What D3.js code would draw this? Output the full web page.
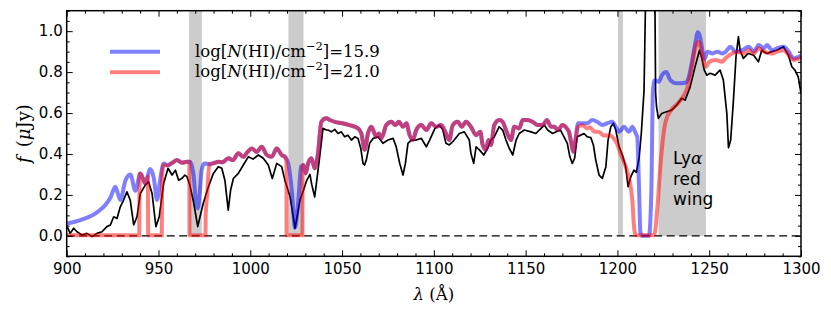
<!DOCTYPE html>
<html>
<head>
<meta charset="utf-8">
<script src="https://cdn.jsdelivr.net/npm/d3@7"></script>
<style>
  body { margin: 0; background: #fff; }
  svg { display: block; }
</style>
</head>
<body>
<div id="chart"></div>
<script>
// shaded wavelength windows (Angstrom)
let bands = [[966.7, 973.6], [1020.8, 1029.0], [1200.3, 1203.0], [1222.4, 1248.2]];

let xTicks = [900, 950, 1000, 1050, 1100, 1150, 1200, 1250, 1300];
let yTicks = [0.0, 0.2, 0.4, 0.6, 0.8, 1.0];

let legendLabels = ["15.9", "21.0"];

// model with log N(HI) = 15.9
let modelLow = [
  [900, 0.06], [905, 0.07], [910, 0.085], [914, 0.10], [918, 0.125], [921, 0.15],
  [924, 0.19], [926.5, 0.24], [929.2, 0.175], [932, 0.27], [934.7, 0.30], [937.4, 0.22],
  [940.1, 0.305], [942.8, 0.256], [945.5, 0.326], [947.5, 0.28], [949.2, 0.175], [951, 0.28],
  [952.8, 0.354], [955, 0.345], [958, 0.36], [960, 0.37], [962.8, 0.357], [965.5, 0.362],
  [967.2, 0.362], [969, 0.305], [970.3, 0.175], [971.4, 0.134], [972.6, 0.224], [973.5, 0.321],
  [975, 0.354], [977.7, 0.35], [980, 0.355], [982.6, 0.362], [985, 0.36], [988, 0.379],
  [990.5, 0.37], [993.5, 0.403], [996.2, 0.386], [998.5, 0.41], [1000.8, 0.427], [1003.5, 0.41],
  [1006.2, 0.435], [1009, 0.395], [1011.7, 0.386], [1014.4, 0.427], [1017.1, 0.395], [1018.9, 0.386],
  [1020.7, 0.354], [1022.6, 0.224], [1024.4, 0.04], [1026.2, 0.175], [1027.7, 0.338], [1028.9, 0.346],
  [1030.2, 0.305], [1031.5, 0.354], [1033.3, 0.379], [1035.1, 0.33], [1036.9, 0.403], [1038.7, 0.557],
  [1041.4, 0.574], [1043.3, 0.566], [1046, 0.557], [1050, 0.55], [1054, 0.541], [1058.7, 0.525],
  [1060.5, 0.5], [1062.3, 0.42], [1064.1, 0.5], [1065.9, 0.533], [1068.7, 0.484], [1070, 0.5],
  [1071.4, 0.476], [1074.1, 0.541], [1076.9, 0.557], [1079, 0.541], [1080.9, 0.557], [1083.2, 0.533],
  [1085, 0.55], [1086.8, 0.492], [1088.6, 0.468], [1090.4, 0.517], [1093.2, 0.541], [1095.9, 0.517],
  [1098.6, 0.55], [1101.2, 0.533], [1103.9, 0.541], [1106.6, 0.5], [1108.4, 0.468], [1110.3, 0.541],
  [1113, 0.557], [1115.2, 0.533], [1117.5, 0.557], [1120.2, 0.533], [1123, 0.492], [1125.3, 0.508],
  [1126.6, 0.444], [1128.4, 0.42], [1129.7, 0.468], [1131.1, 0.444], [1132.9, 0.541], [1135.6, 0.566],
  [1137.5, 0.557], [1139.3, 0.517], [1142, 0.468], [1143.8, 0.533], [1146.5, 0.525], [1148.4, 0.566],
  [1151.1, 0.566], [1153.8, 0.557], [1156.6, 0.541], [1159.3, 0.541], [1161.6, 0.566], [1163.8, 0.533],
  [1165.5, 0.533], [1167.7, 0.517], [1170, 0.541], [1172.4, 0.525], [1173.6, 0.508], [1174.9, 0.452],
  [1176, 0.411], [1177.1, 0.468], [1178.6, 0.55], [1180.9, 0.55], [1183.6, 0.55], [1186.3, 0.566],
  [1189, 0.557], [1191.8, 0.541], [1194.5, 0.55], [1197.2, 0.557], [1199.1, 0.533], [1200.9, 0.508],
  [1203.6, 0.533], [1206.3, 0.508], [1208.1, 0.533], [1210, 0.5], [1210.8, 0.484], [1211.8, 0.224],
  [1212.5, 0.02], [1213.5, 0.0], [1217.2, 0.0], [1218.5, 0.224], [1219.3, 0.70], [1220.3, 0.76],
  [1222.5, 0.753], [1224.3, 0.785], [1226.6, 0.80], [1228.8, 0.761], [1232.4, 0.745], [1237, 0.748],
  [1239, 0.78], [1240.8, 0.859], [1242.6, 0.95], [1243.8, 0.995], [1245, 0.973], [1246.4, 0.90],
  [1247.5, 0.865], [1249, 0.9], [1251.7, 0.891], [1254.4, 0.9], [1257.1, 0.891], [1259, 0.9],
  [1261.5, 0.924], [1264.3, 0.9], [1267.9, 0.907], [1271.5, 0.924], [1274.3, 0.9], [1277, 0.932],
  [1279.7, 0.916], [1281.5, 0.932], [1284.2, 0.907], [1286.9, 0.916], [1290.6, 0.924], [1293.3, 0.9],
  [1296, 0.867], [1298.8, 0.875], [1300, 0.88]
];

// model with log N(HI) = 21.0
let modelHigh = [
  [900, 0.003], [939.5, 0.003], [939.7, 0.30], [940.1, 0.305], [942.8, 0.256], [944.2, 0.29],
  [944.4, 0.003], [951.8, 0.003], [952.0, 0.30], [952.8, 0.345], [955, 0.345], [958, 0.36],
  [960, 0.37], [962.8, 0.357], [965.5, 0.362], [966.8, 0.362], [966.9, 0.003], [975.6, 0.003],
  [975.7, 0.10], [976.5, 0.2], [977.7, 0.35], [980, 0.355], [982.6, 0.362], [985, 0.36],
  [988, 0.379], [990.5, 0.37], [993.5, 0.403], [996.2, 0.386], [998.5, 0.41], [1000.8, 0.427],
  [1003.5, 0.41], [1006.2, 0.435], [1009, 0.395], [1011.7, 0.386], [1014.4, 0.427], [1017.1, 0.395],
  [1018.9, 0.386], [1019.7, 0.37], [1019.8, 0.003], [1028.4, 0.003], [1028.5, 0.34], [1028.9, 0.346],
  [1030.2, 0.305], [1031.5, 0.354], [1033.3, 0.379], [1035.1, 0.33], [1036.9, 0.403], [1038.7, 0.557],
  [1041.4, 0.574], [1043.3, 0.566], [1046, 0.557], [1050, 0.55], [1054, 0.541], [1058.7, 0.525],
  [1060.5, 0.5], [1062.3, 0.42], [1064.1, 0.5], [1065.9, 0.533], [1068.7, 0.484], [1070, 0.5],
  [1071.4, 0.476], [1074.1, 0.541], [1076.9, 0.557], [1079, 0.541], [1080.9, 0.557], [1083.2, 0.533],
  [1085, 0.55], [1086.8, 0.492], [1088.6, 0.468], [1090.4, 0.517], [1093.2, 0.541], [1095.9, 0.517],
  [1098.6, 0.55], [1101.2, 0.533], [1103.9, 0.541], [1106.6, 0.5], [1108.4, 0.468], [1110.3, 0.541],
  [1113, 0.557], [1115.2, 0.533], [1117.5, 0.557], [1120.2, 0.533], [1123, 0.492], [1125.3, 0.508],
  [1126.6, 0.444], [1128.4, 0.42], [1129.7, 0.468], [1131.1, 0.444], [1132.9, 0.541], [1135.6, 0.566],
  [1137.5, 0.557], [1139.3, 0.517], [1142, 0.468], [1143.8, 0.533], [1146.5, 0.525], [1148.4, 0.566],
  [1151.1, 0.566], [1153.8, 0.557], [1156.6, 0.541], [1159.3, 0.541], [1161.6, 0.566], [1163.8, 0.533],
  [1165.5, 0.533], [1167.7, 0.517], [1170, 0.541], [1172.4, 0.525], [1173.6, 0.508], [1174.9, 0.452],
  [1176, 0.411], [1177.1, 0.46], [1178.6, 0.533], [1180.9, 0.54], [1183.6, 0.525], [1185, 0.53],
  [1187.3, 0.51], [1190, 0.508], [1192.6, 0.49], [1195.9, 0.49], [1198.6, 0.468], [1199.8, 0.45],
  [1201.8, 0.40], [1203.2, 0.37], [1204.5, 0.338], [1206.3, 0.281], [1208.1, 0.175], [1209, 0.05],
  [1210, 0.003], [1220, 0.003], [1221.8, 0.142], [1223.3, 0.33], [1224.5, 0.45], [1226.3, 0.56],
  [1229.3, 0.615], [1232.7, 0.645], [1236.3, 0.688], [1238, 0.72], [1239.9, 0.794], [1242.6, 0.924],
  [1244.2, 0.948], [1246.4, 0.875], [1248.2, 0.826], [1250, 0.85], [1253.4, 0.859], [1257.1, 0.85],
  [1258.8, 0.867], [1262.5, 0.891], [1265.2, 0.9], [1268.8, 0.891], [1271.5, 0.907], [1274.3, 0.891],
  [1277, 0.916], [1279.7, 0.9], [1284.2, 0.891], [1287, 0.9], [1290.6, 0.907], [1293.3, 0.883],
  [1296, 0.859], [1299.5, 0.867], [1300, 0.867]
];

// observed spectrum
let observed = [
  [900, 0.05], [901.9, 0.012], [903.8, 0.037], [905.6, 0.02], [908.3, 0.004], [911, 0.012],
  [913.8, -0.004], [916.5, 0.012], [919.2, 0.02], [921.9, 0.045], [923.8, 0.053], [925.6, 0.093],
  [927.4, 0.085], [929.2, 0.142], [931, 0.175], [932.8, 0.215], [934.6, 0.175], [936.5, 0.053],
  [938.3, 0.093], [940.1, 0.207], [942.8, 0.248], [944.6, 0.264], [946.5, 0.207], [948.6, 0.045],
  [950.4, 0.093], [952.8, 0.256], [955.2, 0.33], [957.4, 0.297], [959.2, 0.321], [961, 0.272],
  [962.8, 0.281], [964.4, 0.297], [965.5, 0.289], [967, 0.25], [969, 0.17], [971.4, 0.045],
  [972.8, 0.10], [974.4, 0.159], [977.2, 0.24], [979.9, 0.305], [982.6, 0.338], [984.5, 0.33],
  [986.2, 0.27], [988, 0.126], [989.3, 0.224], [990.8, 0.28], [993.5, 0.305], [996.2, 0.346],
  [998.9, 0.386], [1001.5, 0.375], [1004.4, 0.395], [1007.1, 0.379], [1009.8, 0.346], [1012, 0.28],
  [1014.4, 0.354], [1017.1, 0.338], [1018.9, 0.27], [1021.7, 0.19], [1024.4, 0.037], [1027.1, 0.175],
  [1028.9, 0.22], [1030.7, 0.27], [1032.5, 0.30], [1033.5, 0.25], [1035.1, 0.19], [1036.5, 0.29],
  [1037.8, 0.386], [1039.6, 0.525], [1041.4, 0.517], [1042.3, 0.517], [1044.2, 0.508], [1046, 0.52],
  [1047.8, 0.5], [1049.6, 0.508], [1051.4, 0.484], [1053.2, 0.492], [1055.1, 0.468], [1056.9, 0.484],
  [1058.7, 0.476], [1060.2, 0.427], [1061.4, 0.354], [1062.2, 0.346], [1063.2, 0.37], [1065, 0.452],
  [1066.9, 0.476], [1069.6, 0.484], [1072.3, 0.452], [1075, 0.468], [1077.8, 0.476], [1079.5, 0.435],
  [1081.4, 0.354], [1083.2, 0.297], [1084.5, 0.354], [1085.9, 0.452], [1087.7, 0.468], [1090.4, 0.468],
  [1093.2, 0.476], [1095.9, 0.435], [1097.7, 0.468], [1100.6, 0.525], [1103, 0.541], [1104.8, 0.52],
  [1106.6, 0.452], [1108.4, 0.444], [1110.3, 0.46], [1113.9, 0.5], [1116.6, 0.508], [1119.3, 0.468],
  [1120.2, 0.403], [1121.7, 0.354], [1123, 0.435], [1124.8, 0.42], [1127.2, 0.395], [1129.3, 0.427],
  [1131.1, 0.468], [1132.9, 0.484], [1135.6, 0.533], [1137.5, 0.517], [1139.3, 0.468], [1141.1, 0.427],
  [1143, 0.395], [1144.8, 0.468], [1146.5, 0.5], [1149.3, 0.517], [1152.9, 0.508], [1155.6, 0.5],
  [1157.4, 0.517], [1160.2, 0.541], [1162, 0.517], [1164.7, 0.5], [1167, 0.51], [1169, 0.517],
  [1170.9, 0.484], [1172.7, 0.452], [1174.1, 0.386], [1175.4, 0.354], [1176.7, 0.379], [1178.1, 0.484],
  [1180, 0.492], [1181.8, 0.5], [1183.6, 0.484], [1185.5, 0.48], [1186.9, 0.444], [1188.2, 0.37],
  [1190, 0.297], [1191.8, 0.281], [1193.7, 0.338], [1194.9, 0.468], [1196.4, 0.533], [1197.8, 0.55],
  [1199.1, 0.517], [1200.9, 0.435], [1202.7, 0.395], [1204.5, 0.338], [1205.8, 0.24], [1207.3, 0.289],
  [1209, 0.321], [1210.3, 0.31], [1211.8, 0.379], [1213, 0.5], [1214.5, 0.71], [1215.6, 1.3],
  [1220.3, 1.3], [1220.8, 0.70], [1221.3, 0.631], [1222.3, 0.574], [1224.1, 0.598], [1226.8, 0.606],
  [1229.6, 0.614], [1232.3, 0.639], [1235, 0.672], [1236.9, 0.663], [1239.6, 0.728], [1242.3, 0.826],
  [1244.7, 0.907], [1246, 0.867], [1247.3, 0.81], [1248.7, 0.785], [1250.5, 0.794], [1253.2, 0.785],
  [1255.9, 0.81], [1257.7, 0.761], [1259.6, 0.598], [1260.5, 0.43], [1261.7, 0.468], [1263.2, 0.663],
  [1264.6, 0.875], [1265.9, 0.973], [1266.8, 0.907], [1268.6, 0.867], [1271.3, 0.891], [1274.1, 0.883],
  [1276.8, 0.85], [1278.6, 0.907], [1281.4, 0.891], [1284.1, 0.9], [1286.8, 0.907], [1290.4, 0.924],
  [1293.1, 0.883], [1295, 0.826], [1296.7, 0.81], [1298.5, 0.777], [1300, 0.696]
];

let width = 831;
let height = 318;
let mLeft = 66.7, mRight = 801, mTop = 10.7, mBottom = 256.3;

let svg = d3.select("#chart").append("svg")
  .attr("width", width)
  .attr("height", height);

let x = d3.scaleLinear().domain([900, 1300]).range([mLeft, mRight]);
let y = d3.scaleLinear().domain([-0.1, 1.1]).range([mBottom, mTop]);

svg.append("clipPath").attr("id", "plotclip")
  .append("rect")
  .attr("x", mLeft).attr("y", mTop)
  .attr("width", mRight - mLeft).attr("height", mBottom - mTop);

let plot = svg.append("g").attr("clip-path", "url(#plotclip)");

// grey windows, from the top down to zero flux
plot.selectAll("rect.band")
  .data(bands)
  .enter()
  .append("rect")
  .attr("class", "band")
  .attr("x", d => x(d[0]))
  .attr("width", d => x(d[1]) - x(d[0]))
  .attr("y", y(1.1))
  .attr("height", y(0) - y(1.1))
  .attr("fill", "#cccccc");

// zero line
plot.append("line")
  .attr("x1", x(900)).attr("x2", x(1300))
  .attr("y1", y(0)).attr("y2", y(0))
  .attr("stroke", "#000")
  .attr("stroke-width", 1.3)
  .attr("stroke-dasharray", "8,4.5");

let smooth = d3.line().x(d => x(d[0])).y(d => y(d[1])).curve(d3.curveMonotoneX);
let plain = d3.line().x(d => x(d[0])).y(d => y(d[1]));

plot.append("path")
  .attr("d", plain(observed))
  .attr("fill", "none")
  .attr("stroke", "#000")
  .attr("stroke-width", 1.7)
  .attr("stroke-linejoin", "round");

plot.append("path")
  .attr("d", smooth(modelLow))
  .attr("fill", "none")
  .attr("stroke", "#0000ff")
  .attr("stroke-opacity", 0.5)
  .attr("stroke-width", 4);

plot.append("path")
  .attr("d", smooth(modelHigh))
  .attr("fill", "none")
  .attr("stroke", "#ff0000")
  .attr("stroke-opacity", 0.5)
  .attr("stroke-width", 4);

// axes: ticks on all four sides, pointing inward
let fmt = d3.format(".1f");
let xMinor = d3.range(900, 1301, 10).filter(v => v % 50 !== 0);
let yMinor = d3.range(-2, 23).filter(i => i % 4 !== 0).map(i => i * 0.05);

function styleAxis(g) {
  g.select(".domain").remove();
  g.selectAll(".tick line").attr("stroke", "#000").attr("stroke-width", 1);
  g.selectAll("text")
    .attr("font-family", "DejaVu Sans, sans-serif")
    .attr("font-size", 15)
    .attr("fill", "#000");
}

svg.append("g").attr("transform", `translate(0,${mBottom})`)
  .call(d3.axisBottom(x).tickValues(xTicks).tickSize(-6).tickSizeOuter(0).tickPadding(7).tickFormat(d3.format("d")))
  .call(styleAxis);
svg.append("g").attr("transform", `translate(0,${mBottom})`)
  .call(d3.axisBottom(x).tickValues(xMinor).tickSize(-3).tickSizeOuter(0).tickFormat(""))
  .call(styleAxis);
svg.append("g").attr("transform", `translate(0,${mTop})`)
  .call(d3.axisTop(x).tickValues(xTicks).tickSize(-6).tickSizeOuter(0).tickFormat(""))
  .call(styleAxis);
svg.append("g").attr("transform", `translate(0,${mTop})`)
  .call(d3.axisTop(x).tickValues(xMinor).tickSize(-3).tickSizeOuter(0).tickFormat(""))
  .call(styleAxis);

svg.append("g").attr("transform", `translate(${mLeft},0)`)
  .call(d3.axisLeft(y).tickValues(yTicks).tickSize(-6).tickSizeOuter(0).tickPadding(4).tickFormat(fmt))
  .call(styleAxis);
svg.append("g").attr("transform", `translate(${mLeft},0)`)
  .call(d3.axisLeft(y).tickValues(yMinor).tickSize(-3).tickSizeOuter(0).tickFormat(""))
  .call(styleAxis);
svg.append("g").attr("transform", `translate(${mRight},0)`)
  .call(d3.axisRight(y).tickValues(yTicks).tickSize(-6).tickSizeOuter(0).tickFormat(""))
  .call(styleAxis);
svg.append("g").attr("transform", `translate(${mRight},0)`)
  .call(d3.axisRight(y).tickValues(yMinor).tickSize(-3).tickSizeOuter(0).tickFormat(""))
  .call(styleAxis);

// frame
svg.append("rect")
  .attr("x", mLeft).attr("y", mTop)
  .attr("width", mRight - mLeft).attr("height", mBottom - mTop)
  .attr("fill", "none")
  .attr("stroke", "#000")
  .attr("stroke-width", 1.5);

// legend
let legendColors = ["#0000ff", "#ff0000"];
let legend = svg.append("g");
legendLabels.forEach((lab, i) => {
  let ly = 51.7 + i * 20.5;
  legend.append("line")
    .attr("x1", 110).attr("x2", 160)
    .attr("y1", ly).attr("y2", ly)
    .attr("stroke", legendColors[i])
    .attr("stroke-opacity", 0.5)
    .attr("stroke-width", 4);
  let t = legend.append("text")
    .attr("x", 195).attr("y", ly + 5)
    .attr("font-family", "DejaVu Serif, serif")
    .attr("font-size", 16.5)
    .attr("fill", "#000");
  t.append("tspan").text("log[");
  t.append("tspan").attr("font-style", "italic").text("N");
  t.append("tspan").text("(HI)/cm");
  t.append("tspan").attr("font-size", 11.5).attr("dy", -7).text("\u22122");
  t.append("tspan").attr("dy", 7).text("]=" + lab);
});

// annotation
let note = svg.append("text")
  .attr("font-family", "DejaVu Sans, sans-serif")
  .attr("font-size", 17)
  .attr("fill", "#000");
note.append("tspan").attr("x", 673).attr("y", 164).text("Ly")
  .append("tspan").attr("font-family", "DejaVu Serif, serif").attr("font-style", "italic").attr("font-size", 17).text("\u03b1");
note.append("tspan").attr("x", 673).attr("y", 185).text("red");
note.append("tspan").attr("x", 673).attr("y", 205).text("wing");

// axis titles
let xt = svg.append("text")
  .attr("x", (mLeft + mRight) / 2).attr("y", 300)
  .attr("text-anchor", "middle")
  .attr("font-family", "DejaVu Serif, serif")
  .attr("font-size", 16.5);
xt.append("tspan").attr("font-style", "italic").text("\u03bb");
xt.append("tspan").text(" (\u00c5)");

let yt = svg.append("text")
  .attr("transform", `translate(30,${(mTop + mBottom) / 2}) rotate(-90)`)
  .attr("text-anchor", "middle")
  .attr("font-family", "DejaVu Serif, serif")
  .attr("font-size", 18);
yt.append("tspan").attr("font-style", "italic").text("f");
yt.append("tspan").text("\u2002(");
yt.append("tspan").attr("font-style", "italic").text("\u03bc");
yt.append("tspan").text("Jy)");
</script>
</body>
</html>
